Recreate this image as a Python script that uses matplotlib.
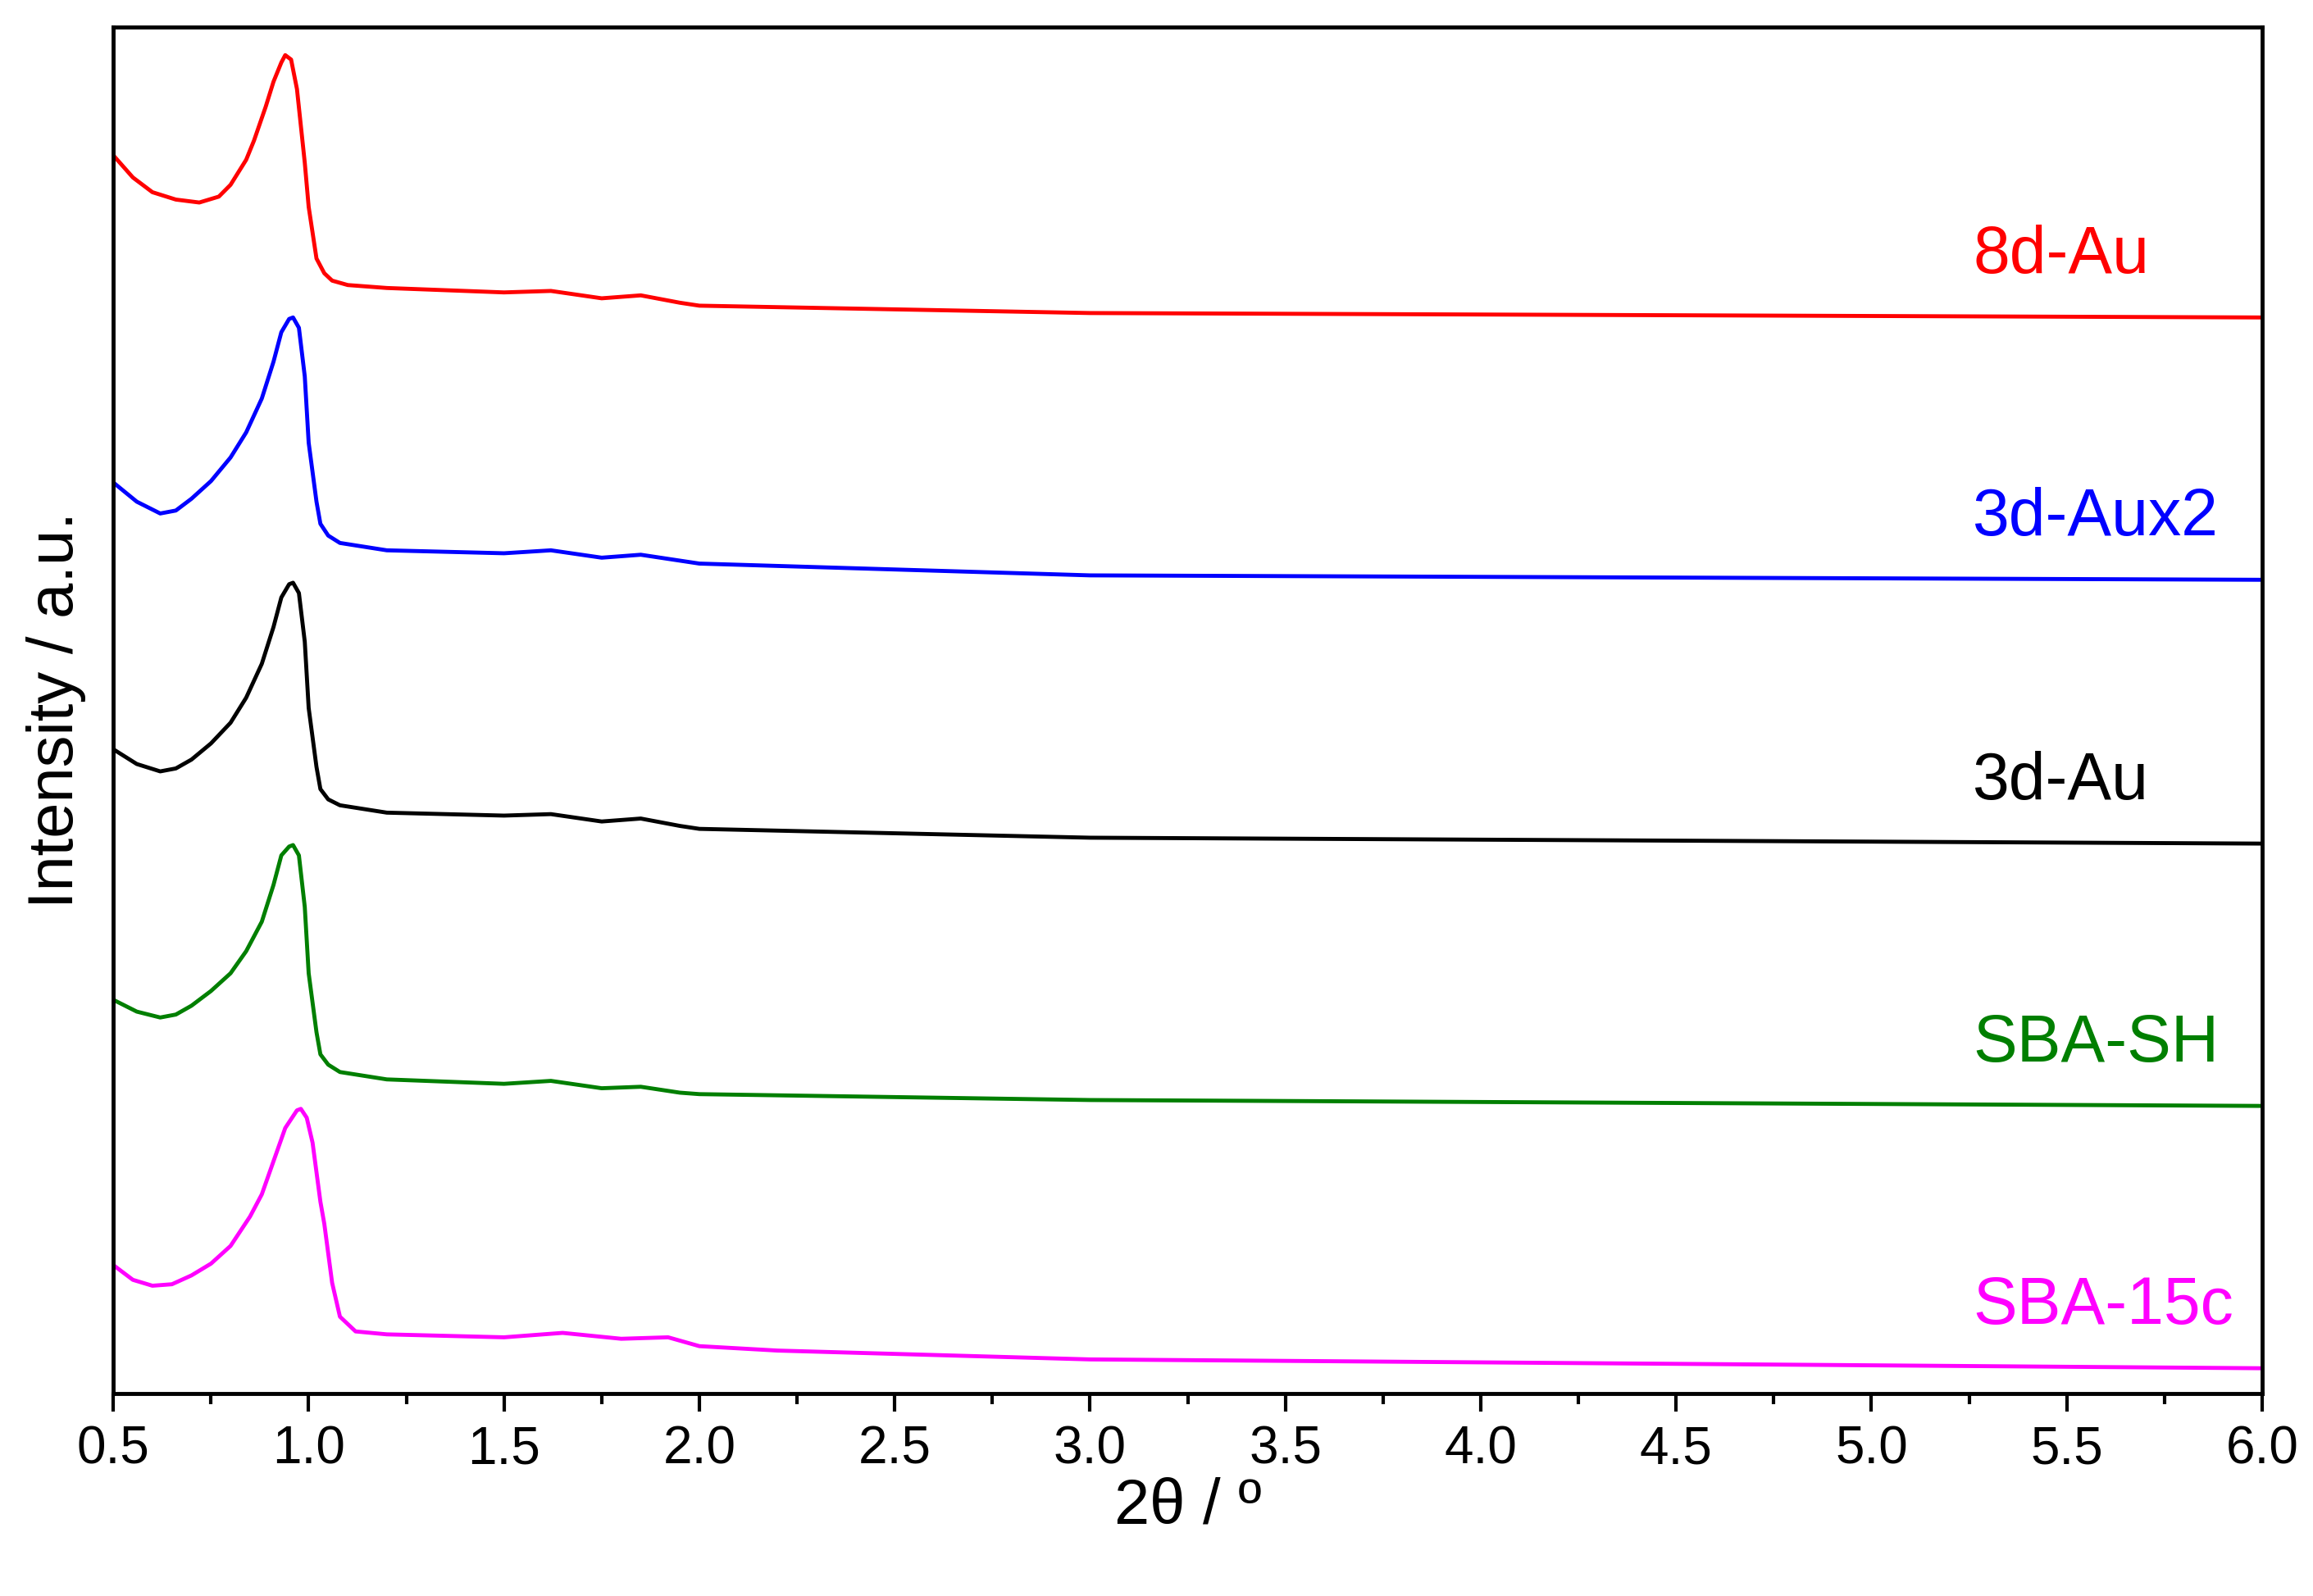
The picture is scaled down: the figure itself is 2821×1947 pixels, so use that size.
import matplotlib
matplotlib.use("Agg")
import matplotlib.pyplot as plt
import numpy as np
from matplotlib.ticker import MultipleLocator

plt.rcParams['font.family'] = ['Liberation Sans', 'DejaVu Sans']

# 2theta points and intensities (arbitrary units, stacked)
x_8d = [0.5, 0.55, 0.6, 0.66, 0.72, 0.77, 0.8, 0.84, 0.86, 0.89, 0.91, 0.93, 0.94, 0.955, 0.97, 0.99, 1.0, 1.02, 1.04, 1.06, 1.1, 1.2, 1.5, 1.62, 1.75, 1.85, 1.95, 2.0, 3.0, 6.0]
y_8d = [105, 120, 130, 135, 137, 133, 125, 108, 95, 72, 55, 42, 37, 40, 60, 110, 140, 175, 185, 190, 193, 195, 198, 197, 202, 200, 205, 207, 212, 215]

x_mid = [0.5, 0.56, 0.62, 0.66, 0.7, 0.75, 0.8, 0.84, 0.88, 0.91, 0.93, 0.95, 0.96, 0.975, 0.99, 1.0, 1.02, 1.03, 1.05, 1.08, 1.2, 1.5, 1.62, 1.75, 1.85, 1.95, 2.0, 3.0, 6.0]
y_aux2 = [327, 340, 348, 346, 338, 326, 310, 293, 270, 245, 225, 216, 215, 222, 255, 300, 340, 355, 363, 368, 373, 375, 373, 378, 376, 380, 382, 390, 393]
y_3d = [508, 518, 523, 521, 515, 504, 490, 473, 450, 425, 405, 396, 395, 402, 435, 480, 520, 535, 542, 546, 551, 553, 552, 557, 555, 560, 562, 568, 572]
y_sh = [678, 686, 690, 688, 682, 672, 660, 645, 625, 600, 580, 574, 573, 580, 615, 660, 700, 715, 722, 727, 732, 735, 733, 738, 737, 741, 742, 746, 750]

x_15c = [0.5, 0.55, 0.6, 0.65, 0.7, 0.75, 0.8, 0.85, 0.88, 0.92, 0.94, 0.97, 0.98, 0.995, 1.01, 1.03, 1.04, 1.06, 1.08, 1.12, 1.2, 1.5, 1.65, 1.8, 1.92, 2.0, 2.2, 3.0, 6.0]
y_15c = [858, 868, 872, 871, 865, 857, 845, 825, 810, 780, 765, 753, 752, 758, 775, 815, 830, 870, 893, 903, 905, 907, 904, 908, 907, 913, 916, 922, 928]

series = [
    ("8d-Au", x_8d, y_8d, "#ff0000"),
    ("3d-Aux2", x_mid, y_aux2, "#0000ff"),
    ("3d-Au", x_mid, y_3d, "#000000"),
    ("SBA-SH", x_mid, y_sh, "#007f00"),
    ("SBA-15c", x_15c, y_15c, "#ff00ff"),
]

fig = plt.figure(figsize=(28.21, 19.47), dpi=100)
ax = fig.add_axes([0.049, 0.127, 0.929, 0.856])
TOP = 945
for name, xs, ys, c in series:
    yy = TOP - np.array(ys)
    ax.plot(xs, yy, color=c, lw=3.5)
    ax.text(5.26, yy[-1] + 42, name, color=c, fontsize=58, ha='left', va='center')

ax.set_xlim(0.5, 6.0)
ax.set_ylim(0, 927)
ax.set_yticks([])
ax.xaxis.set_major_locator(MultipleLocator(0.5))
ax.xaxis.set_minor_locator(MultipleLocator(0.25))
ax.tick_params(axis='x', which='major', length=16, width=3, labelsize=46, pad=12)
ax.tick_params(axis='x', which='minor', length=9, width=3)
ax.xaxis.set_major_formatter(matplotlib.ticker.FormatStrFormatter('%.1f'))
for s in ax.spines.values():
    s.set_linewidth(3.5)
ax.set_xlabel("2θ / º", fontsize=56, labelpad=2)
ax.set_ylabel("Intensity / a.u.", fontsize=56, labelpad=24)
fig.savefig("out.png", dpi=100)
